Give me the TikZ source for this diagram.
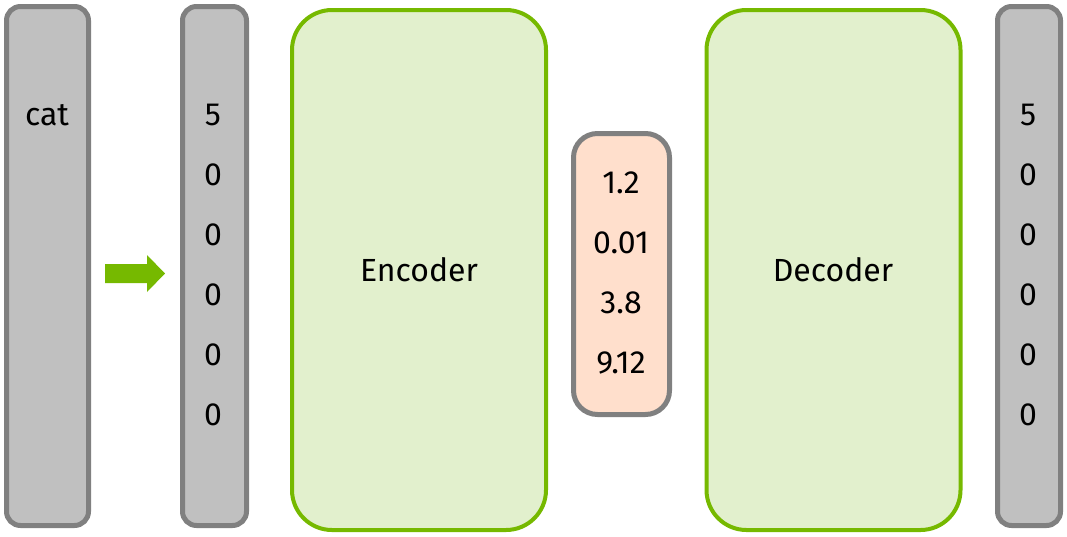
\documentclass[tikz,border=0pt]{standalone}
\usepackage{fontspec}
\setmainfont{Fira Sans}
\definecolor{barfill}{HTML}{C0C0C0}
\definecolor{bardraw}{HTML}{808080}
\definecolor{nvgreen}{HTML}{76B900}
\definecolor{boxfill}{HTML}{E2F0CD}
\definecolor{latfill}{HTML}{FFDFCC}
\begin{document}
\begin{tikzpicture}[x=1pt,y=-1pt,
  bar/.style={draw=bardraw,fill=barfill,line width=5pt,rounded corners=14pt,inner sep=0pt,minimum width=#1,minimum height=519pt},
  coder/.style={draw=nvgreen,fill=boxfill,line width=4pt,rounded corners=40pt,inner sep=0pt,minimum width=254pt,minimum height=520pt},
  latent/.style={draw=bardraw,fill=latfill,line width=5pt,rounded corners=24pt,inner sep=0pt,minimum width=96pt,minimum height=281pt},
  lbl/.style={font=\fontsize{32}{38}\selectfont,text=black,inner sep=0pt}]
\useasboundingbox (0,0) rectangle (1067,536);
\node[bar=82pt] (b1) at (47.5,266) {};
\node[bar=64pt] (b2) at (214.5,266) {};
\node[coder] (enc) at (419,270) {};
\node[latent] (lat) at (621.5,274) {};
\node[coder] (dec) at (833.5,270) {};
\node[bar=63pt] (b3) at (1029,266) {};
\node[lbl] (cat) at (47,115) {cat};
\node[lbl] (enct) at (419,270) {Encoder};
\node[lbl] (dect) at (833,270) {Decoder};
\foreach \v [count=\i] in {5,0,0,0,0,0} {
  \node[lbl] (x\i) at (213,{115+60*(\i-1)}) {\v};
  \node[lbl] (y\i) at (1028,{115+60*(\i-1)}) {\v};
}
\foreach \v [count=\i] in {1.2,0.01,3.8,9.12} {
  \node[lbl] (z\i) at (621,{183+60*(\i-1)}) {\v};
}
\fill[nvgreen] (105,264) -- (147,264) -- (147,255) -- (165,273.5) -- (147,292) -- (147,283) -- (105,283) -- cycle;
\end{tikzpicture}
\end{document}
